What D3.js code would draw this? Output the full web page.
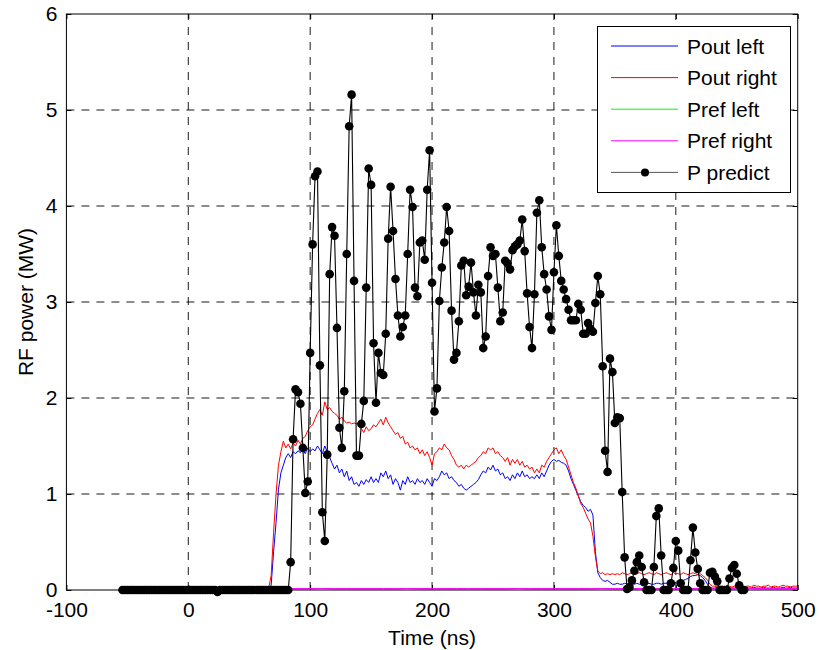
<!DOCTYPE html>
<html><head><meta charset="utf-8">
<script src="https://cdn.jsdelivr.net/npm/d3@7"></script>
<style>body{margin:0;background:#fff;} text{font-family:"Liberation Sans",Arial,Helvetica,sans-serif;}</style>
</head><body><svg id="c" width="819" height="650"></svg>
<script>
const xTicks = [-100, 0, 100, 200, 300, 400, 500];
const yTicks = [0, 1, 2, 3, 4, 5, 6];
const seriesNames = ["Pout left", "Pout right", "Pref left", "Pref right", "P predict"];
const seriesColors = ["#0000ff", "#ff0000", "#00ff00", "#ff00ff", "#000000"];

// Pout sampled every 2 ns from 0 ns
const poutStart = 0, poutStep = 2;
const poutLeft = [
0.01,0.02,0.01,0.02,0.01,0.01,0.02,0.01,0.02,0.01,
0.02,0.01,0.01,0.02,0.01,0.02,0.01,0.02,0.01,0.01,
0.02,0.01,0.02,0.01,0.01,0.02,0.01,0.02,0.01,0.01,
0.02,0.01,0.02,
0.02,0.05,0.40,0.70,1.05,1.22,1.30,1.38,1.42,1.38,
1.44,1.42,1.45,1.43,1.46,1.42,1.48,1.44,1.47,1.45,
1.50,1.46,1.42,1.50,1.44,1.38,1.32,1.26,1.30,1.22,
1.26,1.18,1.24,1.14,1.18,1.10,1.12,1.08,1.14,1.10,
1.15,1.12,1.18,1.12,1.16,1.12,1.22,1.18,1.24,1.16,
1.20,1.10,1.16,1.12,1.04,1.14,1.10,1.18,1.12,1.14,
1.10,1.16,1.12,1.14,1.10,1.16,1.12,1.08,1.16,1.14,
1.18,1.24,1.20,1.22,1.16,1.18,1.14,1.12,1.08,1.10,
1.06,1.04,1.06,1.08,1.10,1.12,1.15,1.20,1.24,1.22,
1.28,1.25,1.30,1.24,1.26,1.20,1.22,1.16,1.18,1.14,
1.20,1.16,1.22,1.18,1.24,1.18,1.20,1.16,1.18,1.16,
1.20,1.16,1.22,1.18,1.24,1.30,1.34,1.36,1.34,1.35,
1.33,1.32,1.30,1.24,1.16,1.10,1.04,0.98,0.92,0.88,
0.86,0.82,0.84,0.78,0.40,0.18,0.13,0.10,0.09,0.10,
0.08,0.06,0.06,
0.07,0.06,0.06,0.07,0.06,0.06,0.07,0.06,0.07,0.06,
0.06,0.07,0.06,0.07,0.06,0.06,0.07,0.07,0.06,0.07,
0.07,0.08,
0.07,0.08,0.08,0.09,0.09,0.10,0.11,0.12,0.14,0.15,
0.15,0.16,0.15,0.13,0.10,0.06,0.03,
0.02,0.02,0.03,0.02,0.02,0.02,0.03,0.02,0.02,0.02,
0.03,0.02,0.02,0.02,0.03,0.02,0.02,0.03,0.02,0.02,
0.02,0.03,0.02,0.02,0.02,0.03,0.02,0.02,0.02,0.03,
0.02,0.02,0.03,0.02,0.02,0.02
];
const poutRight = [
0.02,0.01,0.02,0.02,0.01,0.02,0.03,0.02,0.01,0.02,
0.02,0.03,0.02,0.01,0.02,0.02,0.01,0.03,0.02,0.02,
0.01,0.02,0.03,0.02,0.01,0.02,0.02,0.03,0.02,0.01,
0.02,0.02,0.02,
0.02,0.15,0.60,1.00,1.30,1.44,1.55,1.48,1.52,1.47,
1.53,1.50,1.56,1.52,1.58,1.60,1.66,1.70,1.72,1.78,
1.84,1.88,1.82,1.96,1.88,1.90,1.86,1.84,1.82,1.78,
1.80,1.76,1.74,1.75,1.73,1.74,1.73,1.74,1.68,1.64,
1.70,1.66,1.68,1.72,1.70,1.74,1.78,1.72,1.80,1.74,
1.70,1.66,1.62,1.64,1.58,1.60,1.52,1.54,1.48,1.50,
1.46,1.48,1.42,1.46,1.40,1.44,1.38,1.30,1.42,1.44,
1.48,1.46,1.52,1.48,1.46,1.40,1.36,1.30,1.28,1.30,
1.26,1.30,1.28,1.30,1.32,1.34,1.38,1.40,1.44,1.42,
1.48,1.46,1.48,1.42,1.44,1.40,1.38,1.34,1.38,1.30,
1.36,1.32,1.36,1.30,1.34,1.28,1.30,1.26,1.28,1.22,
1.26,1.22,1.30,1.28,1.34,1.38,1.42,1.46,1.48,1.42,
1.46,1.40,1.36,1.28,1.20,1.12,1.06,0.98,0.90,0.86,
0.80,0.74,0.70,0.56,0.35,0.20,0.17,0.18,0.16,0.17,
0.16,0.17,0.16,
0.17,0.16,0.18,0.17,0.16,0.17,0.18,0.16,0.17,0.18,
0.17,0.16,0.17,0.18,0.17,0.16,0.18,0.17,0.16,0.17,
0.18,0.17,0.16,0.18,0.17,0.17,0.16,0.18,0.17,0.16,
0.17,0.18,0.17,0.16,0.17,
0.15,0.13,0.10,0.06,0.04,
0.04,0.03,0.04,0.04,0.03,0.05,0.04,0.03,0.04,0.04,
0.05,0.04,0.03,0.04,0.04,0.03,0.05,0.04,0.04,0.03,
0.04,0.04,0.05,0.03,0.04,0.04,0.03,0.04,0.05,0.04,
0.04,0.03,0.04,0.04,0.04
];

// Pref sampled every 10 ns from 0 ns
const prefStart = 0, prefStep = 10;
const prefLeft = [
0.01,0.01,0.01,0.01,0.01,0.01,0.01,0.01,0.01,0.01,
0.01,0.015,0.01,0.01,0.01,0.01,0.01,0.01,0.015,0.01,
0.01,0.01,0.01,0.01,0.01,0.01,0.01,0.015,0.01,0.01,
0.01,0.01,0.01,0.01,0.015,0.01,0.01,0.01,0.01,0.01,
0.01,0.01,0.01,0.01,0.01,0.01,0.015,0.01,0.01,0.01,0.01
];
const prefRight = [
0.015,0.015,0.015,0.015,0.015,0.015,0.015,0.015,0.015,0.015,
0.015,0.015,0.015,0.015,0.015,0.015,0.015,0.015,0.015,0.015,
0.015,0.015,0.015,0.015,0.015,0.015,0.015,0.015,0.015,0.015,
0.015,0.015,0.015,0.015,0.015,0.015,0.015,0.015,0.015,0.015,
0.015,0.015,0.015,0.015,0.015,0.015,0.015,0.015,0.015,0.015,0.015
];

// P predict sampled every 2 ns from -54 ns
const predStart = -54, predStep = 2;
const pPredict = [
0,0,0,0,0,0,0,0,0,0,
0,0,0,0,0,0,0,0,0,0,
0,0,0,0,0,0,0,0,0,0,
0,0,0,0,0,0,0,0,0,-0.02,
0,0,0,0,0,0,0,0,0,0,
0,0,0,0,0,0,0,0,0,0,
0,0,0,0,0,0,0,0,0,
0.29,1.57,2.09,2.06,1.94,1.48,1.01,1.13,2.47,
3.60,4.31,4.36,2.34,0.81,0.51,1.41,3.29,3.78,3.69,
2.73,1.69,1.48,2.07,3.50,4.83,5.16,3.22,1.40,1.40,
1.73,1.97,3.15,4.39,4.22,2.57,1.95,2.47,2.26,2.24,
2.67,3.66,4.20,3.74,3.24,2.86,2.64,2.74,2.86,3.50,
4.17,3.99,3.15,3.06,3.62,3.64,3.44,4.17,4.58,3.20,
1.86,2.10,3.01,3.36,3.62,3.99,3.74,2.91,2.40,2.47,
2.80,3.38,3.43,3.07,3.16,3.41,3.10,2.86,3.18,3.10,
2.52,2.64,3.27,3.57,3.48,3.50,3.15,2.80,2.89,3.43,
3.40,3.34,3.54,3.58,3.60,3.64,3.86,3.53,3.09,2.74,
2.52,3.08,3.93,4.06,3.57,3.29,3.13,2.85,2.71,3.31,
3.80,3.48,3.22,3.13,3.03,2.92,2.81,2.81,2.81,2.98,
2.92,2.67,2.67,2.78,2.72,2.69,2.99,3.27,3.08,2.33,
1.45,1.23,2.41,2.27,1.74,1.80,1.79,1.02,0.34,
0.01,0.03,0.10,0.20,0.29,0.36,0.24,0.08,0.00,0.00,
0.00,0.24,0.77,0.85,0.36,0.00,0.00,0.00,0.07,0.23,
0.51,0.41,0.07,0.00,0.00,0.00,0.31,0.65,0.39,0.22,
0.07,0.00,0.00,0.00,0.18,0.19,0.14,0.09,0.00,0.00,
0.00,0.00,0.12,0.23,0.26,0.17,0.05,0.00,0.00
];

const toPts = (arr, start, step) => arr.map((v, i) => [start + i * step, v]);

const W = 819, H = 650;
const L = 66.4, R = 797.7, T = 14, B = 590;
const svg = d3.select("#c");
svg.append("rect").attr("width", W).attr("height", H).attr("fill", "#fff");

const x = d3.scaleLinear().domain([-100, 500]).range([L, R]);
const y = d3.scaleLinear().domain([0, 6]).range([B, T]);

const FS = 21;
const fmt = d => String(d);
// grid
const grid = svg.append("g").attr("stroke", "#000").attr("stroke-width", 0.9).attr("stroke-dasharray", "8,7");
xTicks.slice(1, -1).forEach(t => grid.append("line").attr("x1", x(t)).attr("x2", x(t)).attr("y1", B).attr("y2", T));
yTicks.slice(1, -1).forEach(t => grid.append("line").attr("y1", y(t)).attr("y2", y(t)).attr("x1", L).attr("x2", R));

// axes
const axB = d3.axisBottom(x).tickValues(xTicks).tickSize(-5).tickPadding(12).tickFormat(fmt);
const axL = d3.axisLeft(y).tickValues(yTicks).tickSize(-5).tickPadding(9).tickFormat(fmt);
const axT = d3.axisTop(x).tickValues(xTicks).tickSize(-5).tickFormat("");
const axR = d3.axisRight(y).tickValues(yTicks).tickSize(-5).tickFormat("");
function styleAx(g) {
  g.select(".domain").remove();
  g.selectAll("line").attr("stroke", "#000");
  g.selectAll("text").attr("font-size", FS).attr("fill", "#000").style("font-family", '"Liberation Sans",Arial,sans-serif');
}
svg.append("g").attr("transform", `translate(0,${B})`).call(axB).call(styleAx);
const gl = svg.append("g").attr("transform", `translate(${L},0)`).call(axL).call(styleAx);
gl.selectAll(".tick text").attr("dy", "0.30em");
svg.append("g").attr("transform", `translate(0,${T})`).call(axT).call(styleAx);
svg.append("g").attr("transform", `translate(${R},0)`).call(axR).call(styleAx);

// data
const line = d3.line().x(d => x(d[0])).y(d => y(d[1]));
const seriesData = [
  toPts(poutLeft, poutStart, poutStep),
  toPts(poutRight, poutStart, poutStep),
  toPts(prefLeft, prefStart, prefStep),
  toPts(prefRight, prefStart, prefStep),
  toPts(pPredict, predStart, predStep)
];
seriesData.forEach((d, i) => {
  svg.append("path").datum(d).attr("d", line).attr("fill", "none")
    .attr("stroke", seriesColors[i]).attr("stroke-width", i === 4 ? 1.1 : 1);
});
svg.append("g").selectAll("circle").data(seriesData[4]).join("circle")
  .attr("cx", d => x(d[0])).attr("cy", d => y(d[1])).attr("r", 4.3).attr("fill", "#000");

// box
svg.append("rect").attr("x", L).attr("y", T).attr("width", R - L).attr("height", B - T)
  .attr("fill", "none").attr("stroke", "#000").attr("stroke-width", 1);

// labels
svg.append("text").attr("x", (L + R) / 2).attr("y", 645).attr("text-anchor", "middle")
  .attr("font-size", FS).attr("fill", "#000").text("Time (ns)");
svg.append("text").attr("transform", `translate(33,${(T + B) / 2}) rotate(-90)`).attr("text-anchor", "middle")
  .attr("font-size", FS).attr("fill", "#000").text("RF power (MW)");

// legend
const lg = svg.append("g");
lg.append("rect").attr("x", 597.5).attr("y", 26.5).attr("width", 193).attr("height", 166)
  .attr("fill", "#fff").attr("stroke", "#000").attr("stroke-width", 1);
seriesNames.forEach((n, i) => {
  const cy = 46 + i * 31.6;
  lg.append("line").attr("x1", 611).attr("x2", 678).attr("y1", cy).attr("y2", cy)
    .attr("stroke", i === 4 ? "#555" : seriesColors[i]).attr("stroke-width", 1);
  if (i === 4) lg.append("circle").attr("cx", 645).attr("cy", cy).attr("r", 4).attr("fill", "#000");
  lg.append("text").attr("x", 687).attr("y", cy + 7.5).attr("font-size", FS).attr("fill", "#000").text(n);
});
</script></body></html>
